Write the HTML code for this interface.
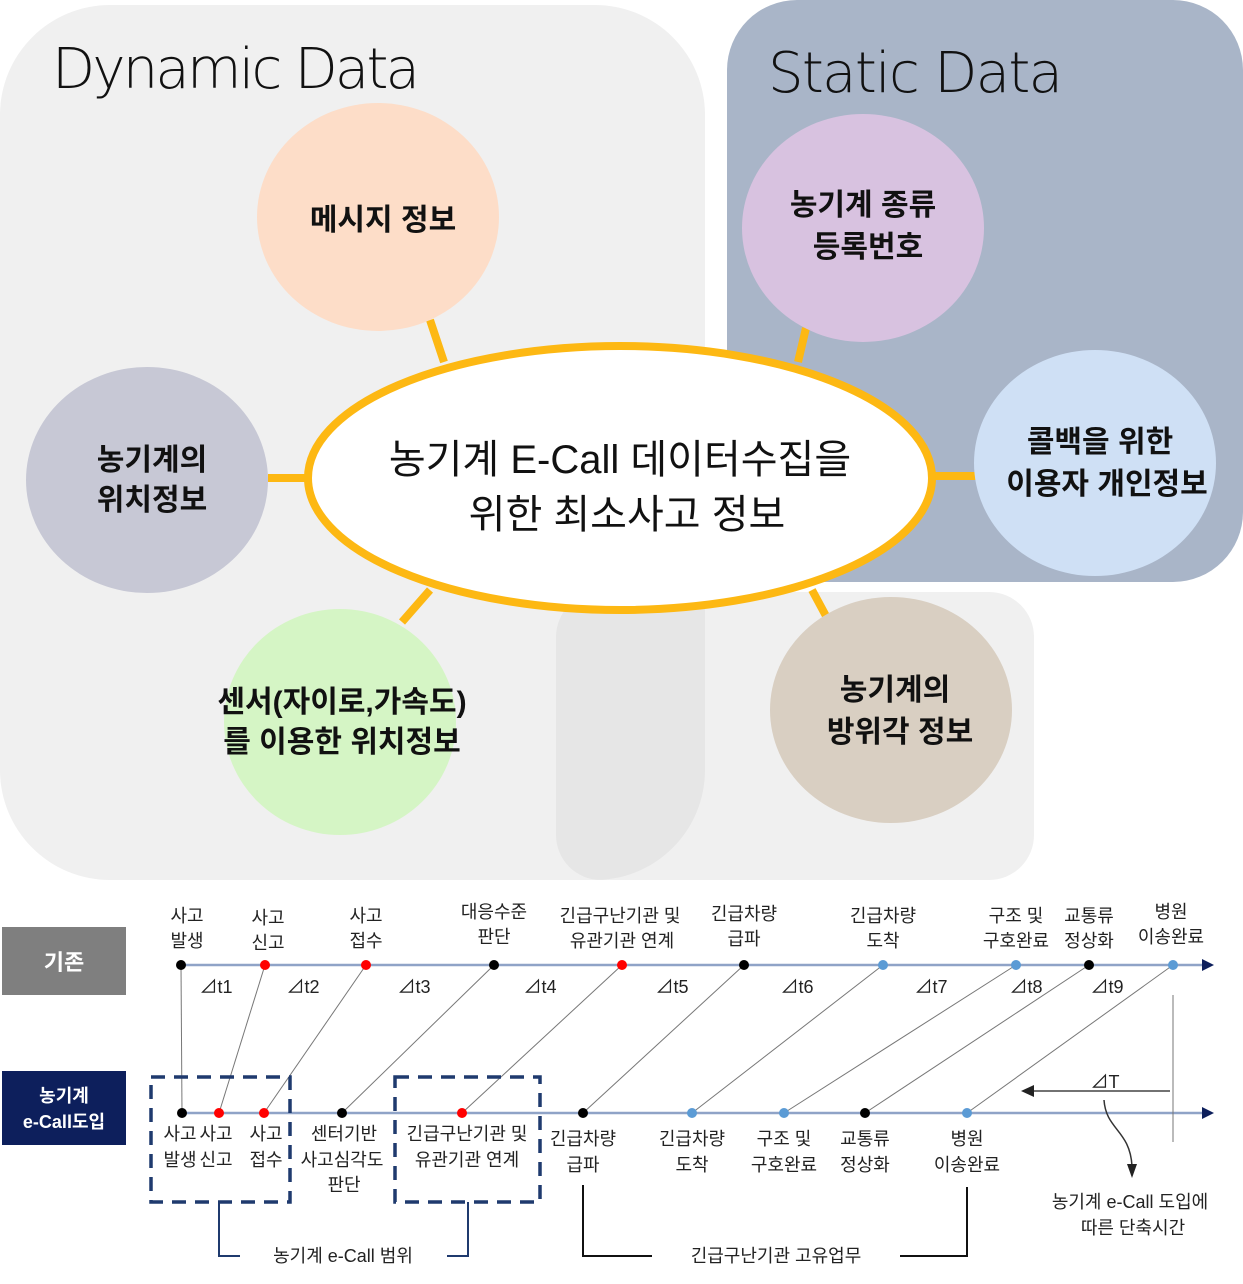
<!DOCTYPE html>
<html><head><meta charset="utf-8"><style>
html,body{margin:0;padding:0;background:#fff;}
svg{display:block;font-family:"Liberation Sans","Noto Sans CJK KR",sans-serif;}
</style></head><body>
<svg width="1243" height="1284" viewBox="0 0 1243 1284" xmlns="http://www.w3.org/2000/svg">
<defs>
<clipPath id="c2"><rect x="556" y="592" width="478" height="288" rx="45"/></clipPath>
</defs>
<rect x="0" y="5" width="705" height="875" rx="110" fill="#f0f0f0"/>
<rect x="556" y="592" width="478" height="288" rx="45" fill="#f0f0f0"/>
<rect x="0" y="5" width="705" height="875" rx="110" fill="#e6e6e6" clip-path="url(#c2)"/>
<rect x="727" y="0" width="516" height="582" rx="70" fill="#a9b5c8"/>
<text x="52" y="88" font-size="56" fill="#111" font-family="DejaVu Sans, sans-serif" font-weight="300" textLength="368">Dynamic Data</text>
<text x="768" y="92" font-size="56" fill="#111" font-family="DejaVu Sans, sans-serif" font-weight="300" textLength="295">Static Data</text>
<g stroke="#fdb813" stroke-width="8">
<line x1="430" y1="320" x2="444" y2="362"/>
<line x1="268" y1="478" x2="310" y2="478"/>
<line x1="402" y1="622" x2="430" y2="590"/>
<line x1="798" y1="362" x2="806" y2="328"/>
<line x1="930" y1="476" x2="976" y2="476"/>
<line x1="812" y1="590" x2="826" y2="616"/>
</g>
<ellipse cx="378" cy="217" rx="121" ry="114" fill="#fdddc8"/>
<ellipse cx="863" cy="228" rx="121" ry="114" fill="#d8c2e0"/>
<ellipse cx="147" cy="480" rx="121" ry="113" fill="#c7c8d5"/>
<ellipse cx="1095" cy="463" rx="121" ry="113" fill="#cfe0f5"/>
<ellipse cx="340" cy="722" rx="116" ry="113" fill="#d5f5c5"/>
<ellipse cx="891" cy="710" rx="121" ry="113" fill="#d9cfc2"/>
<ellipse cx="620" cy="478" rx="312" ry="132" fill="#fff" stroke="#fdb813" stroke-width="8"/>
<g font-weight="bold" font-size="30" fill="#111" text-anchor="middle">
<text x="383" y="230">메시지 정보</text>
<text x="863" y="215">농기계 종류</text>
<text x="868" y="257">등록번호</text>
<text x="152" y="470">농기계의</text>
<text x="152" y="510">위치정보</text>
<text x="1100" y="452">콜백을 위한</text>
<text x="1107" y="494">이용자 개인정보</text>
<text x="342" y="712">센서(자이로,가속도)</text>
<text x="342" y="752">를 이용한 위치정보</text>
<text x="895" y="700">농기계의</text>
<text x="900" y="742">방위각 정보</text>
</g>
<g font-size="40" fill="#111" text-anchor="middle">
<text x="620" y="473">농기계 E-Call 데이터수집을</text>
<text x="627" y="528">위한 최소사고 정보</text>
</g>
<rect x="2" y="927" width="124" height="68" fill="#7f7f7f"/>
<text x="64" y="970" font-size="22" font-weight="bold" fill="#fff" text-anchor="middle">기존</text>
<rect x="2" y="1071" width="124" height="74" fill="#0d1f5c"/>
<text x="64" y="1102" font-size="18" font-weight="bold" fill="#fff" text-anchor="middle">농기계</text>
<text x="64" y="1128" font-size="18" font-weight="bold" fill="#fff" text-anchor="middle">e-Call도입</text>
<g stroke="#8fa3c7" stroke-width="2.5">
<line x1="181" y1="965" x2="1204" y2="965"/>
<line x1="181" y1="1113" x2="1204" y2="1113"/>
</g>
<path d="M1202,959 L1214,965 L1202,971 z" fill="#0d1f5c"/>
<path d="M1202,1107 L1214,1113 L1202,1119 z" fill="#0d1f5c"/>
<g stroke="#777" stroke-width="1">
<line x1="181" y1="965" x2="182" y2="1113"/>
<line x1="265" y1="965" x2="219" y2="1113"/>
<line x1="366" y1="965" x2="264" y2="1113"/>
<line x1="494" y1="965" x2="342" y2="1113"/>
<line x1="622" y1="965" x2="462" y2="1113"/>
<line x1="744" y1="965" x2="583" y2="1113"/>
<line x1="883" y1="965" x2="692" y2="1113"/>
<line x1="1016" y1="965" x2="784" y2="1113"/>
<line x1="1089" y1="965" x2="865" y2="1113"/>
<line x1="1173" y1="965" x2="967" y2="1113"/>
<line x1="1173" y1="995" x2="1173" y2="1142"/>
</g>
<line x1="1170" y1="1091" x2="1032" y2="1091" stroke="#444" stroke-width="1.5"/>
<path d="M1034,1085 L1021,1091 L1034,1097 z" fill="#222"/>
<path d="M1104,1100 C1106,1130 1130,1130 1132,1166" fill="none" stroke="#333" stroke-width="1.5"/>
<path d="M1127,1164 L1132,1178 L1137,1164 z" fill="#222"/>
<g>
<circle cx="181" cy="965" r="5" fill="#000"/><circle cx="265" cy="965" r="5" fill="#f00"/><circle cx="366" cy="965" r="5" fill="#f00"/>
<circle cx="494" cy="965" r="5" fill="#000"/><circle cx="622" cy="965" r="5" fill="#f00"/><circle cx="744" cy="965" r="5" fill="#000"/>
<circle cx="883" cy="965" r="5" fill="#5b9bd5"/><circle cx="1016" cy="965" r="5" fill="#5b9bd5"/><circle cx="1089" cy="965" r="5" fill="#000"/>
<circle cx="1173" cy="965" r="5" fill="#5b9bd5"/>
<circle cx="182" cy="1113" r="5" fill="#000"/><circle cx="219" cy="1113" r="5" fill="#f00"/><circle cx="264" cy="1113" r="5" fill="#f00"/>
<circle cx="342" cy="1113" r="5" fill="#000"/><circle cx="462" cy="1113" r="5" fill="#f00"/><circle cx="583" cy="1113" r="5" fill="#000"/>
<circle cx="692" cy="1113" r="5" fill="#5b9bd5"/><circle cx="784" cy="1113" r="5" fill="#5b9bd5"/><circle cx="865" cy="1113" r="5" fill="#000"/>
<circle cx="967" cy="1113" r="5" fill="#5b9bd5"/>
</g>
<g fill="none" stroke="#1f3a6e" stroke-width="3.5" stroke-dasharray="14,9">
<rect x="151" y="1077" width="139" height="125"/>
<rect x="395" y="1077" width="145" height="125"/>
</g>
<g fill="none" stroke="#1f3a6e" stroke-width="2">
<polyline points="219,1202 219,1256 240,1256"/>
<polyline points="447,1256 468,1256 468,1202"/>
</g>
<g fill="none" stroke="#111" stroke-width="2">
<polyline points="583,1185 583,1256 652,1256"/>
<polyline points="900,1256 967,1256 967,1187"/>
</g>
<g font-size="18" fill="#222" text-anchor="middle">
<text x="187" y="922">사고</text><text x="187" y="947">발생</text>
<text x="268" y="924">사고</text><text x="268" y="949">신고</text>
<text x="366" y="922">사고</text><text x="366" y="947">접수</text>
<text x="494" y="918">대응수준</text><text x="494" y="943">판단</text>
<text x="620" y="922">긴급구난기관 및</text><text x="622" y="947">유관기관 연계</text>
<text x="744" y="920">긴급차량</text><text x="744" y="945">급파</text>
<text x="883" y="922">긴급차량</text><text x="883" y="947">도착</text>
<text x="1016" y="922">구조 및</text><text x="1016" y="947">구호완료</text>
<text x="1089" y="922">교통류</text><text x="1089" y="947">정상화</text>
<text x="1171" y="918">병원</text><text x="1171" y="943">이송완료</text>
<text x="216" y="993">⊿t1</text><text x="303" y="993">⊿t2</text><text x="414" y="993">⊿t3</text>
<text x="540" y="993">⊿t4</text><text x="672" y="993">⊿t5</text><text x="797" y="993">⊿t6</text>
<text x="931" y="993">⊿t7</text><text x="1026" y="993">⊿t8</text><text x="1107" y="993">⊿t9</text>
<text x="1105" y="1088">⊿T</text>
<text x="180" y="1140">사고</text><text x="180" y="1166">발생</text>
<text x="216" y="1140">사고</text><text x="216" y="1166">신고</text>
<text x="266" y="1140">사고</text><text x="266" y="1166">접수</text>
<text x="344" y="1140">센터기반</text><text x="342" y="1166">사고심각도</text><text x="344" y="1191">판단</text>
<text x="467" y="1140">긴급구난기관 및</text><text x="467" y="1166">유관기관 연계</text>
<text x="583" y="1145">긴급차량</text><text x="583" y="1171">급파</text>
<text x="692" y="1145">긴급차량</text><text x="692" y="1171">도착</text>
<text x="784" y="1145">구조 및</text><text x="784" y="1171">구호완료</text>
<text x="865" y="1145">교통류</text><text x="865" y="1171">정상화</text>
<text x="967" y="1145">병원</text><text x="967" y="1171">이송완료</text>
<text x="343" y="1262">농기계 e-Call 범위</text>
<text x="776" y="1262">긴급구난기관 고유업무</text>
<text x="1130" y="1208">농기계 e-Call 도입에</text>
<text x="1133" y="1234">따른 단축시간</text>
</g>
</svg>
</body></html>
